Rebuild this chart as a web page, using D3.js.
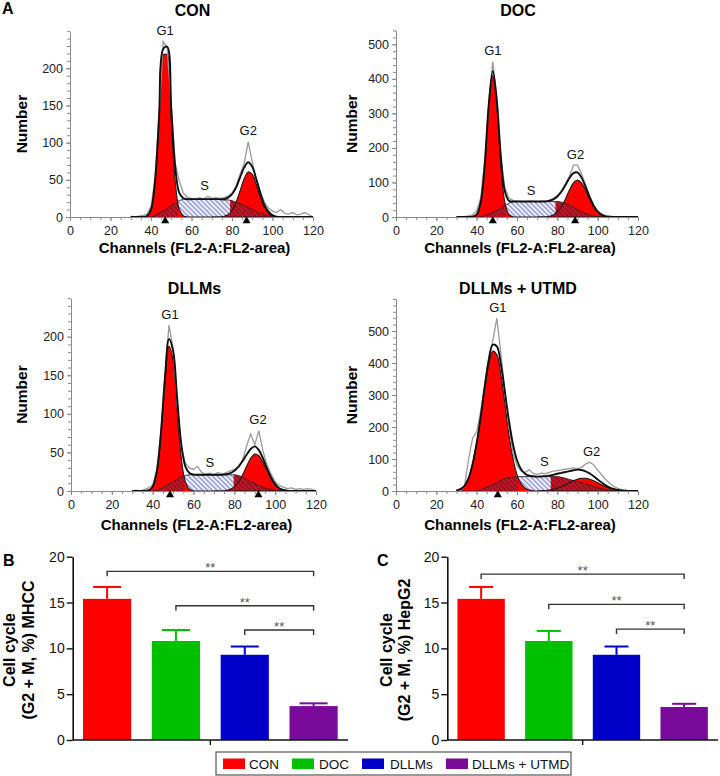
<!DOCTYPE html>
<html><head><meta charset="utf-8">
<script src="https://cdn.jsdelivr.net/npm/d3@7"></script>
<style>body{margin:0;background:#fff}svg{display:block}</style>
</head><body><svg id="c" width="720" height="776"></svg>
<script>
// ---------------- DATA ----------------
const channels = [30,32,34,36,38,40,42,44,46,48,50,52,54,56,58,60,62,64,66,68,70,72,74,76,78,80,82,84,86,88,90,92,94,96,98,100,102,104,106,108,110,112,114,116,118,120];
const histTitles = ["CON","DOC","DLLMs","DLLMs + UTMD"];
const histXTicks = [0,20,40,60,80,100,120];

const conRaw = [1,0,1,2,4,14,52,138,236,228,150,72,48,32,26,25,24,26,24,28,25,26,25,26,28,32,42,58,72,101,74,52,34,20,12,8,6,10,5,4,6,3,4,6,3,0];
const conG1  = [0,0,0,0,1.3,10,47,131,218,218,131,47,10,1.3,0,0,0,0,0,0,0,0,0,0,0,0,0,0,0,0,0,0,0,0,0,0,0,0,0,0,0,0,0,0,0,0];
const conS   = [0,0,0,0,0,0,2,5,8,11,15,19,22,24,24,24,24,24,24,24,24,24,24,23,23,22,20,18,15,13,10,7,5,3,2,1,0,0,0,0,0,0,0,0,0,0];
const conG2  = [0,0,0,0,0,0,0,0,0,0,0,0,0,0,0,0,0,0,0,0,0,0,0,0.9,3.1,8.7,19.5,35.3,51.5,60.6,57.4,43.8,26.9,13.3,5.3,1.7,0.4,0,0,0,0,0,0,0,0,0];

const docRaw = [0,0,1,3,6,18,55,165,330,450,340,170,85,55,48,46,45,44,46,45,44,46,45,48,54,62,76,96,118,150,150,125,92,60,36,18,9,4,2,1,1,0,0,0,0,0];
const docG1  = [0,0,0,0,0.7,7,41,148,318,410,318,148,41,7,0.7,0,0,0,0,0,0,0,0,0,0,0,0,0,0,0,0,0,0,0,0,0,0,0,0,0,0,0,0,0,0,0];
const docS   = [0,0,0,0,0,0,1,4,8,13,19,26,33,40,44,45,45,45,45,45,45,45,45,45,45,45,43,40,35,28,22,15,10,6,3,1,0,0,0,0,0,0,0,0,0,0];
const docG2  = [0,0,0,0,0,0,0,0,0,0,0,0,0,0,0,0,0,0,0,0,0,0,0,2,6,14.5,30,52,78,99,107,99,78,52,30,14.5,6,2,0.6,0,0,0,0,0,0,0];

const dllmsRaw = [0,1,0,2,4,8,28,74,150,215,185,112,58,36,30,28,32,24,22,23,21,24,22,24,26,28,32,40,58,74,60,78,52,34,22,12,7,5,3,4,2,3,2,3,2,0];
const dllmsG1  = [0,0,0,0,0.9,5.6,24,71,140,188,170,105,43,12,2.3,0.3,0,0,0,0,0,0,0,0,0,0,0,0,0,0,0,0,0,0,0,0,0,0,0,0,0,0,0,0,0,0];
const dllmsS   = [0,0,0,0,0,0,1,3,6,9,12,15,18,20,21,21,21,21,21,21,21,21,21,21,21,21,20,18,15,12,10,7,5,3,2,1,0,0,0,0,0,0,0,0,0,0];
const dllmsG2  = [0,0,0,0,0,0,0,0,0,0,0,0,0,0,0,0,0,0,0,0,0,0,0,0.7,2.1,5.3,11.3,20.6,32,42.4,47.8,45.9,37.6,26.2,15.6,7.9,3.4,1.3,0.4,0,0,0,0,0,0,0];

const utmdRaw = [0,2,15,100,165,185,250,330,420,470,540,430,310,200,120,80,62,58,66,55,52,56,54,58,62,64,66,68,70,72,70,74,84,90,82,66,50,36,24,14,8,4,2,1,0,0];
const utmdG1  = [2,6,16,40,85,150,228,318,395,437,426,363,272,178,102,51,23,9,3,1,0,0,0,0,0,0,0,0,0,0,0,0,0,0,0,0,0,0,0,0,0,0,0,0,0,0];
const utmdS   = [0,0,0,0,0,0,4,9,14,20,26,33,38,42,44,45,45,45,45,45,45,45,45,45,45,45,43,40,36,33,30,26,22,18,14,10,7,4,2,1,0,0,0,0,0,0];
const utmdG2  = [0,0,0,0,0,0,0,0,0,0,0,0,0,0,0,0,0,0,0,0,0,0.8,1.6,3.1,5.4,8.9,13.6,19.5,25.9,32,36.9,39.6,39.6,36.9,32,25.9,19.5,13.6,8.9,5.4,3.1,1.6,0.8,0.4,0,0];

const conYTicks = [0,50,100,150,200];
const docYTicks = [0,100,200,300,400,500];
const dllmsYTicks = [0,50,100,150,200];
const utmdYTicks = [0,100,200,300,400,500];
const histYMax = [250,540,250,600];
const histYMinorStep = [10,20,10,20];
const g1Means = [47,48,48.5,50.5];
const g2Means = [87.2,88.8,91.8,null];
const g2LabelCh = [88,89,91.6,97];
const sLabelCh = [66.5,67,68,73.5];

const groups = ["CON","DOC","DLLMs","DLLMs + UTMD"];
const groupColors = ["#ff0000","#00c000","#0000c8","#7a0a9a"];
const mhccMean = [15.4,10.8,9.3,3.7];
const mhccErr  = [1.3,1.2,0.9,0.3];
const hepg2Mean = [15.4,10.8,9.3,3.6];
const hepg2Err  = [1.3,1.1,0.9,0.35];
const barYTicks = [0,5,10,15,20];
const mhccBrackets  = [[0,3,18.4],[1,3,14.65],[2,3,12.0]];
const hepg2Brackets = [[0,3,18.1],[1,3,14.8],[2,3,12.1]];

// ---------------- DRAW ----------------
const FONT = '"Liberation Sans", Arial, Helvetica, sans-serif';
const svg = d3.select("#c").style("font-family", FONT);
const defs = svg.append("defs");

function hatch(id, bg, fg, sp) {
  const p = defs.append("pattern").attr("id", id).attr("patternUnits","userSpaceOnUse")
    .attr("width", sp).attr("height", sp).attr("patternTransform","rotate(-45)");
  p.append("rect").attr("width", sp).attr("height", sp).attr("fill", bg);
  p.append("line").attr("x1",0.6).attr("y1",0).attr("x2",0.6).attr("y2",sp).attr("stroke",fg).attr("stroke-width",1.1);
}
hatch("hatchBlue", "#eef0fb", "#7a84cc", 3.4);
hatch("hatchRed", "#c4151d", "#7d0f2e", 3.4);

const histSets = [
  {raw:conRaw, g1:conG1, s:conS, g2:conG2, yTicks:conYTicks},
  {raw:docRaw, g1:docG1, s:docS, g2:docG2, yTicks:docYTicks},
  {raw:dllmsRaw, g1:dllmsG1, s:dllmsS, g2:dllmsG2, yTicks:dllmsYTicks},
  {raw:utmdRaw, g1:utmdG1, s:utmdS, g2:utmdG2, yTicks:utmdYTicks}
];
const histLayout = [
  {x0:70,  x1:313, y0:217, y1:217-250*0.7435, numX:27,  titleY:15.5,  xTitleY:253},
  {x0:396, x1:638, y0:217, y1:217-540*0.3454, numX:357, titleY:15.5,  xTitleY:253},
  {x0:71,  x1:316, y0:491, y1:491-250*0.7715, numX:27,  titleY:293.5, xTitleY:530},
  {x0:396, x1:638, y0:491, y1:491-600*0.32,   numX:357, titleY:293.5, xTitleY:530}
];

function drawHist(i) {
  const L = histLayout[i], D = histSets[i];
  const g = svg.append("g");
  const x = d3.scaleLinear().domain([0,120]).range([L.x0, L.x1]);
  const y = d3.scaleLinear().domain([0, histYMax[i]]).range([L.y0, L.y1]);
  const pts = channels.map((c,k) => ({c, raw:D.raw[k], g1:D.g1[k], s:D.s[k], g2:D.g2[k],
    tot:D.g1[k]+D.s[k]+D.g2[k]}));
  const curve = d3.curveCatmullRom.alpha(0.5);

  const clipId = "clip"+i;
  defs.append("clipPath").attr("id", clipId).append("rect")
    .attr("x", L.x0).attr("y", L.y1-30).attr("width", L.x1-L.x0).attr("height", L.y0-(L.y1-30));
  const pg = g.append("g").attr("clip-path", `url(#${clipId})`);

  // boundaries of S overlap with G1/G2
  let kPeak = d3.maxIndex(pts, d => d.g1);
  let c1 = channels[kPeak];
  for (let k = kPeak+1; k < pts.length; k++) {
    const a = pts[k-1].g1 - pts[k-1].s, b = pts[k].g1 - pts[k].s;
    if (b < 0) { c1 = pts[k-1].c + (a/(a-b))*(pts[k].c-pts[k-1].c); break; }
  }
  const g2max = d3.max(pts, d => d.g2), thr = 0.1*g2max;
  let c2 = 120;
  for (let k = 1; k < pts.length; k++) {
    if (pts[k].c > c1 && pts[k].g2 >= thr) {
      const a = pts[k-1].g2, b = pts[k].g2;
      c2 = pts[k-1].c + ((thr-a)/(b-a))*(pts[k].c-pts[k-1].c); break;
    }
  }

  const area = key => d3.area().x(d => x(d.c)).y0(y(0)).y1(d => y(d[key])).curve(curve);
  const line = key => d3.line().x(d => x(d.c)).y(d => y(d[key])).curve(curve);

  pg.append("path").datum(pts).attr("d", area("s")).attr("fill","url(#hatchBlue)");
  pg.append("path").datum(pts).attr("d", area("g1")).attr("fill","#ff0000");
  pg.append("path").datum(pts).attr("d", area("g2")).attr("fill","#ff0000");
  const ocl = "oclip"+i;
  const cp = defs.append("clipPath").attr("id", ocl);
  cp.append("rect").attr("x", L.x0).attr("y", L.y1-30).attr("width", x(c1)-L.x0).attr("height", L.y0-L.y1+30);
  cp.append("rect").attr("x", x(c2)).attr("y", L.y1-30).attr("width", L.x1-x(c2)).attr("height", L.y0-L.y1+30);
  pg.append("g").attr("clip-path", `url(#${ocl})`)
    .append("path").datum(pts).attr("d", area("s")).attr("fill","url(#hatchRed)");

  pg.append("path").datum(pts).attr("d", line("s")).attr("fill","none").attr("stroke","#3a2020").attr("stroke-width",0.9);
  pg.append("path").datum(pts).attr("d", line("g1")).attr("fill","none").attr("stroke","#1a1a1a").attr("stroke-width",1.1);
  pg.append("path").datum(pts.filter(d => d.c >= 70)).attr("d", line("g2")).attr("fill","none").attr("stroke","#1a1a1a").attr("stroke-width",1.1);
  pg.append("path").datum(pts).attr("d", d3.line().x(d => x(d.c)).y(d => y(d.raw)))
    .attr("fill","none").attr("stroke","#9a9a9a").attr("stroke-width",1.3);
  pg.append("path").datum(pts).attr("d", line("tot")).attr("fill","none").attr("stroke","#111").attr("stroke-width",1.9);

  const ax = (sel) => { sel.select(".domain").attr("stroke","#8a8a8a");
    sel.selectAll(".tick line").attr("stroke","#8a8a8a");
    sel.selectAll(".tick text").attr("fill","#222").style("font-size","12.5px").style("font-family",FONT); };
  g.append("g").attr("transform",`translate(0,${L.y0})`)
    .call(d3.axisBottom(x).tickValues(d3.range(0,121,5)).tickSize(3).tickFormat(""))
    .call(s => { s.select(".domain").remove(); s.selectAll("line").attr("stroke","#8a8a8a"); });
  g.append("g").attr("transform",`translate(0,${L.y0})`)
    .call(d3.axisBottom(x).tickValues(histXTicks).tickSize(4).tickPadding(5).tickSizeOuter(0)).call(ax);
  g.append("g").attr("transform",`translate(${L.x0},0)`)
    .call(d3.axisLeft(y).tickValues(d3.range(0, histYMax[i]+0.01, histYMinorStep[i])).tickSize(3).tickFormat(""))
    .call(s => { s.select(".domain").remove(); s.selectAll("line").attr("stroke","#8a8a8a"); });
  g.append("g").attr("transform",`translate(${L.x0},0)`)
    .call(d3.axisLeft(y).tickValues(D.yTicks).tickSize(4).tickPadding(3).tickSizeOuter(0)).call(ax);

  [g1Means[i], g2Means[i]].filter(v => v != null).forEach(v => {
    g.append("path").attr("d", d3.symbol(d3.symbolTriangle).size(28)())
      .attr("transform",`translate(${x(v)},${L.y0+4})`).attr("fill","#000");
  });

  const peakNear = (ch) => d3.max(pts.filter(d => Math.abs(d.c-ch) <= 3), d => Math.max(d.raw, d.tot));
  const lab = (txt, ch) => g.append("text").attr("x", x(ch)).attr("y", y(peakNear(ch)) - 11)
    .attr("dy","0.35em").attr("text-anchor","middle").style("font-size","13px").attr("fill","#111").text(txt);
  lab("G1", g1Means[i]);
  lab("G2", g2LabelCh[i]);
  lab("S", sLabelCh[i]);

  const cx = (L.x0+L.x1)/2 + 1;
  g.append("text").attr("x", cx).attr("y", L.titleY).attr("text-anchor","middle")
    .style("font-size","16px").style("font-weight","bold").text(histTitles[i]);
  g.append("text").attr("x", cx+2).attr("y", L.xTitleY).attr("text-anchor","middle")
    .style("font-size","15px").style("font-weight","bold").text("Channels (FL2-A:FL2-area)");
  g.append("text").attr("transform",`translate(${L.numX},${(L.y0+L.y1)/2}) rotate(-90)`)
    .attr("text-anchor","middle").style("font-size","15.5px").style("font-weight","bold").text("Number");
}
for (let i = 0; i < 4; i++) drawHist(i);

svg.append("text").attr("x",2).attr("y",14).style("font-size","16px").style("font-weight","bold").text("A");

// ---------------- BAR CHARTS ----------------
const barLayout = [
  {x0:72.7, x1:348, letterX:3, lab1X:15, lab2X:34, capW:14},
  {x0:447.3, x1:718, letterX:377, lab1X:392, lab2X:410, capW:12}
];
function drawBars(j, means, errs, brackets, lab2, letter) {
  const L = barLayout[j];
  const g = svg.append("g");
  const x = d3.scaleBand().domain(groups).range([L.x0, L.x1]).paddingInner(0.3).paddingOuter(0.15);
  const y = d3.scaleLinear().domain([0,20]).range([740, 556.7]);
  const bw = x.bandwidth();
  groups.forEach((gname, k) => {
    const cx = x(gname) + bw/2;
    g.append("line").attr("x1",cx).attr("x2",cx).attr("y1",y(means[k])).attr("y2",y(means[k]+errs[k]))
      .attr("stroke",groupColors[k]).attr("stroke-width",2);
    g.append("line").attr("x1",cx-L.capW).attr("x2",cx+L.capW).attr("y1",y(means[k]+errs[k])).attr("y2",y(means[k]+errs[k]))
      .attr("stroke",groupColors[k]).attr("stroke-width",2);
    g.append("rect").attr("x", x(gname)).attr("y", y(means[k])).attr("width", bw)
      .attr("height", y(0)-y(means[k])).attr("fill", groupColors[k]);
  });
  const ya = g.append("g").attr("transform",`translate(${L.x0},0)`)
    .call(d3.axisLeft(y).tickValues(barYTicks).tickSize(6).tickPadding(2).tickSizeOuter(0));
  ya.select(".domain").attr("stroke","#111").attr("stroke-width",1.6);
  ya.selectAll(".tick line").attr("stroke","#111").attr("stroke-width",1.4);
  ya.selectAll(".tick text").attr("fill","#111").style("font-size","14px").style("font-family",FONT);
  g.append("line").attr("x1",L.x0).attr("x2",L.x1).attr("y1",y(0)).attr("y2",y(0)).attr("stroke","#111").attr("stroke-width",1.6);
  const mid = (L.x0+L.x1)/2;
  g.append("line").attr("x1",mid).attr("x2",mid).attr("y1",y(0)).attr("y2",y(0)+5).attr("stroke","#111").attr("stroke-width",1.4);

  brackets.forEach(([a,b,h]) => {
    const xa = x(groups[a])+bw/2, xb = x(groups[b])+bw/2, yy = y(h);
    g.append("path").attr("d",`M${xa},${yy+5}V${yy}H${xb}V${yy+5}`).attr("fill","none").attr("stroke","#333").attr("stroke-width",1.4);
    g.append("text").attr("x",(xa+xb)/2).attr("y",yy+1).attr("text-anchor","middle")
      .style("font-size","13px").attr("fill","#555").text("**");
  });
  const cy = 650;
  g.append("text").attr("transform",`translate(${L.lab1X},${cy}) rotate(-90)`).attr("text-anchor","middle")
    .style("font-size","16px").style("font-weight","bold").text("Cell cycle");
  g.append("text").attr("transform",`translate(${L.lab2X},${cy}) rotate(-90)`).attr("text-anchor","middle")
    .style("font-size","16px").style("font-weight","bold").text(lab2);
  g.append("text").attr("x",L.letterX).attr("y",566).style("font-size","16px").style("font-weight","bold").text(letter);
}
drawBars(0, mhccMean, mhccErr, mhccBrackets, "(G2 + M, %) MHCC", "B");
drawBars(1, hepg2Mean, hepg2Err, hepg2Brackets, "(G2 + M, %) HepG2", "C");

// ---------------- LEGEND ----------------
const lg = svg.append("g");
lg.append("rect").attr("x",216).attr("y",752).attr("width",355).attr("height",23)
  .attr("fill","#fff").attr("stroke","#333").attr("stroke-width",1);
const swX = [223, 292, 362, 446], txX = [249, 319, 390, 472];
groups.forEach((gname,k) => {
  lg.append("rect").attr("x",swX[k]).attr("y",758.5).attr("width",22).attr("height",10.5).attr("fill",groupColors[k]);
  lg.append("text").attr("x",txX[k]).attr("y",768.5).style("font-size","13.5px").attr("fill","#111").text(gname);
});
</script></body></html>
